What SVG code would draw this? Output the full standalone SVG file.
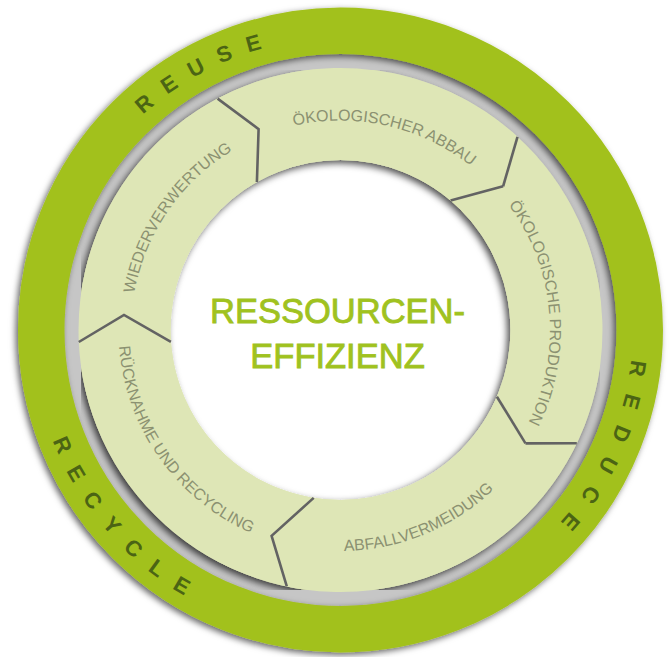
<svg xmlns="http://www.w3.org/2000/svg" xmlns:xlink="http://www.w3.org/1999/xlink" width="672" height="657" viewBox="0 0 672 657">
  <style>
    .ring-word { font-family: "Liberation Sans", Arial, sans-serif; font-size: 22px; font-weight: bold; fill: #4b6414; }
    .label { font-family: "Liberation Sans", Arial, sans-serif; font-size: 16px; fill: #8b9171; }
    .title { font-family: "Liberation Sans", Arial, sans-serif; font-size: 34.5px; fill: #a0c21f; stroke: #a0c21f; stroke-width: 0.9; text-anchor: middle; }
    .seg { fill: #dee6b6; }
    .divider { fill: none; stroke: #636363; stroke-width: 2.6; stroke-linejoin: miter; }
  </style>
  <defs>
    <filter id="shadow" x="-10%" y="-10%" width="120%" height="120%">
      <feDropShadow dx="-2.5" dy="2.5" stdDeviation="3" flood-color="#000" flood-opacity="0.6"/>
    </filter>
    <filter id="band-shadow" x="-10%" y="-10%" width="120%" height="120%">
      <feDropShadow dx="-3" dy="3" stdDeviation="3.5" flood-color="#000" flood-opacity="0.7"/>
    </filter>
    <!-- text baselines: clockwise arcs (letters upright outward) and counter-clockwise arcs (letters upright inward) -->
    <path id="p-reuse" d="M48.8,317.3 A292,292 0 0 1 497.4,83.7"/>
    <path id="p-reduce" d="M580.3,163.4 A292,292 0 0 1 364.9,621.0"/>
    <path id="p-recycle" d="M47.7,234.3 A308,308 0 0 0 404.0,631.4"/>
    <path id="p-wieder" d="M151.4,420.2 A209.5,209.5 0 0 1 356.9,121.2"/>
    <path id="p-abbau" d="M186.8,187.7 A209.5,209.5 0 0 1 540.6,268.1"/>
    <path id="p-prod" d="M428.2,139.8 A209.5,209.5 0 0 1 461.4,501.1"/>
    <path id="p-abfall" d="M205.7,505.1 A221,221 0 0 0 559.6,359.2"/>
    <path id="p-rueck" d="M139.0,236.9 A222,222 0 0 0 360.6,551.1"/>
    <linearGradient id="fade2" gradientUnits="userSpaceOnUse" x1="503.1" y1="186.3" x2="517.5" y2="136.9">
      <stop offset="0" stop-color="#636363"/>
      <stop offset="1" stop-color="#d8d8d8"/>
    </linearGradient>
    <linearGradient id="fade3" gradientUnits="userSpaceOnUse" x1="525.5" y1="443.4" x2="576.8" y2="443.2">
      <stop offset="0" stop-color="#636363"/>
      <stop offset="1" stop-color="#a8a8a8"/>
    </linearGradient>
  </defs>

  <rect width="672" height="657" fill="#ffffff"/>

  <!-- recessed grey groove between the outer ring and the segment band -->
  <circle cx="340.5" cy="330" r="269" fill="none" stroke="#c6c6c6" stroke-width="16"/>

  <!-- outer green ring -->
  <g id="outer-ring">
    <circle cx="340.5" cy="330" r="299.25" fill="none" stroke="#a2c11c" stroke-width="46.5" filter="url(#shadow)"/>
    <text class="ring-word" letter-spacing="15.5" text-anchor="middle"><textPath href="#p-reuse" startOffset="50%">REUSE</textPath></text>
    <text class="ring-word" letter-spacing="17.5" text-anchor="middle"><textPath href="#p-reduce" startOffset="50%">REDUCE</textPath></text>
    <text class="ring-word" letter-spacing="17" text-anchor="middle"><textPath href="#p-recycle" startOffset="50%">RECYCLE</textPath></text>
  </g>

  <!-- shadow underlay for the segment band -->
  <circle cx="340.5" cy="330" r="216" fill="none" stroke="#dee6b6" stroke-width="92" filter="url(#band-shadow)"/>

  <g id="seg-wiederverwertung">
    <path class="seg" d="M78.8,342.0 A262,262 0 0 1 217.6,98.6 L258.6,129.1 L256.9,182.0 A170,170 0 0 0 170.9,341.8 L124.0,314.9 Z"/>
    <text class="label" text-anchor="middle"><textPath href="#p-wieder" startOffset="50%">WIEDERVERWERTUNG</textPath></text>
  </g>
  <g id="seg-oekologischer-abbau">
    <path class="seg" d="M217.6,98.6 A262,262 0 0 1 517.5,136.9 L503.1,186.3 L450.6,200.5 A170,170 0 0 0 256.9,182.0 L258.6,129.1 Z"/>
    <text class="label" text-anchor="middle"><textPath href="#p-abbau" startOffset="50%">ÖKOLOGISCHER ABBAU</textPath></text>
  </g>
  <g id="seg-oekologische-produktion">
    <path class="seg" d="M517.5,136.9 A262,262 0 0 1 576.8,443.2 L525.5,443.4 L496.9,396.7 A170,170 0 0 0 450.6,200.5 L503.1,186.3 Z"/>
    <text class="label" text-anchor="middle"><textPath href="#p-prod" startOffset="50%">ÖKOLOGISCHE PRODUKTION</textPath></text>
  </g>
  <g id="seg-abfallvermeidung">
    <path class="seg" d="M576.8,443.2 A262,262 0 0 1 286.8,586.4 L271.6,535.8 L313.7,497.9 A170,170 0 0 0 496.9,396.7 L525.5,443.4 Z"/>
    <text class="label" text-anchor="middle"><textPath href="#p-abfall" startOffset="50%">ABFALLVERMEIDUNG</textPath></text>
  </g>
  <g id="seg-ruecknahme-recycling">
    <path class="seg" d="M286.8,586.4 A262,262 0 0 1 78.8,342.0 L124.0,314.9 L170.9,341.8 A170,170 0 0 0 313.7,497.9 L271.6,535.8 Z"/>
    <text class="label" text-anchor="middle"><textPath href="#p-rueck" startOffset="50%">RÜCKNAHME UND RECYCLING</textPath></text>
  </g>

  <!-- chevron dividers between the segments -->
  <g id="connectors">
    <polyline class="divider" points="217.6,98.6 258.6,129.1 256.9,182.0"/>
    <polyline class="divider" points="450.6,200.5 503.1,186.3"/>
    <polyline class="divider" points="503.1,186.3 517.5,136.9" stroke="url(#fade2)"/>
    <polyline class="divider" points="496.9,396.7 525.5,443.4"/>
    <polyline class="divider" points="525.5,443.4 576.8,443.2" stroke="url(#fade3)"/>
    <polyline class="divider" points="286.8,586.4 271.6,535.8 313.7,497.9"/>
    <polyline class="divider" points="78.8,342.0 124.0,314.9 170.9,341.8"/>
  </g>

  <g id="center-title">
    <text class="title" x="337.5" y="322.5">RESSOURCEN-</text>
    <text class="title" x="337.5" y="368.3">EFFIZIENZ</text>
  </g>
</svg>
